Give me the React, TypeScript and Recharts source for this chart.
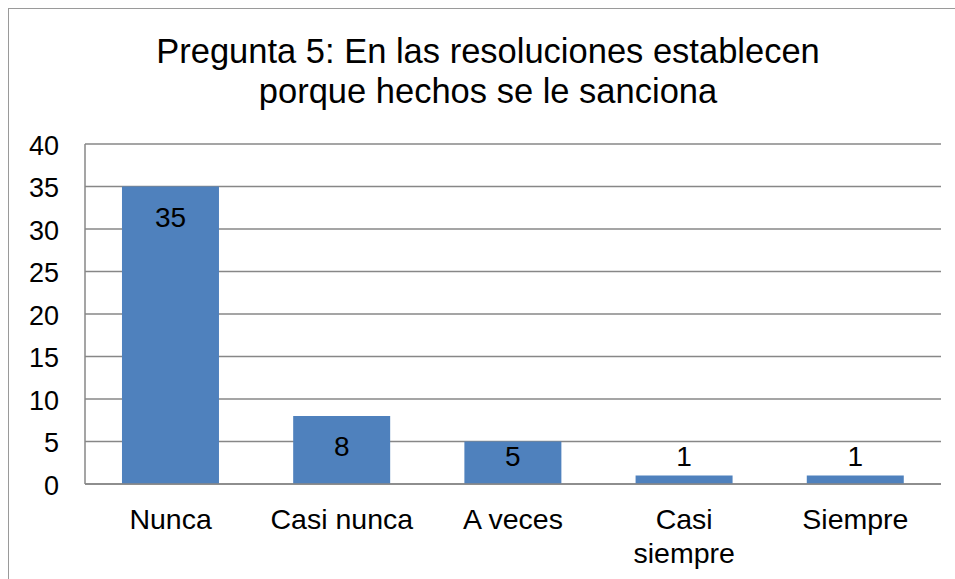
import { BarChart, Bar, XAxis, YAxis, CartesianGrid, LabelList } from 'recharts'

const categories = ['Nunca', 'Casi nunca', 'A veces', 'Casi siempre', 'Siempre']
const values = [35, 8, 5, 1, 1]
const yTicks = [0, 5, 10, 15, 20, 25, 30, 35, 40]

const title = ['Pregunta 5: En las resoluciones establecen', 'porque hechos se le sanciona']

const data = categories.map((name, i) => ({ name, value: values[i] }))

const FONT = '"Liberation Sans", Arial, sans-serif'
const GRID = '#878787'
const BAR = '#4F81BD'

function CategoryTick(props: any) {
  const { x, y, payload } = props
  const label: string = payload.value
  // long labels wrap onto two lines, like the original
  const lines = label.length > 10 ? label.split(' ') : [label]
  return (
    <text x={x} y={y} textAnchor="middle" fill="#000" fontSize={28.5} fontFamily={FONT}>
      {lines.map((l, i) => (
        <tspan key={i} x={x} y={y + 45 + i * 34}>
          {l}
        </tspan>
      ))}
    </text>
  )
}

function ValueLabel(props: any) {
  const { x, y, width, height, value } = props
  const baseline = Math.min(y + 40, y + height - 18)
  return (
    <text x={x + width / 2} y={baseline} textAnchor="middle" fill="#000" fontSize={28} fontFamily={FONT}>
      {value}
    </text>
  )
}

export default function App() {
  return (
    <div style={{ position: 'fixed', left: 0, top: 0, width: 955, height: 579, overflow: 'hidden', background: '#fff', fontFamily: FONT }}>
      <div style={{ position: 'absolute', left: 8, top: 8, width: 970, height: 600, border: '1px solid #9a9a9a', boxSizing: 'border-box' }} />
      <div
        style={{
          position: 'absolute',
          left: 0,
          top: 30.6,
          width: 976,
          textAlign: 'center',
          fontSize: 34.5,
          lineHeight: '40.3px',
          color: '#000',
          whiteSpace: 'nowrap',
        }}
      >
        {title.map((t, i) => (
          <div key={i}>{t}</div>
        ))}
      </div>
      <div style={{ position: 'absolute', left: 0, top: 0 }}>
        <BarChart
          width={955}
          height={579}
          data={data}
          margin={{ top: 144, right: 14, bottom: 0, left: 0 }}
          barCategoryGap="21.6%"
        >
          <CartesianGrid vertical={false} stroke={GRID} strokeWidth={1.5} />
          <XAxis
            dataKey="name"
            height={95}
            axisLine={{ stroke: GRID, strokeWidth: 1.5 }}
            tickLine={false}
            tickSize={0}
            tickMargin={0}
            interval={0}
            tick={<CategoryTick />}
          />
          <YAxis
            width={85}
            domain={[0, 40]}
            ticks={yTicks}
            interval={0}
            axisLine={{ stroke: GRID, strokeWidth: 1.5 }}
            tickLine={false}
            tickSize={0}
            tickMargin={26}
            tick={{ fill: '#000', fontSize: 27, fontFamily: FONT, dy: 1 }}
          />
          <Bar dataKey="value" fill={BAR} isAnimationActive={false}>
            <LabelList dataKey="value" content={<ValueLabel />} />
          </Bar>
        </BarChart>
      </div>
    </div>
  )
}
